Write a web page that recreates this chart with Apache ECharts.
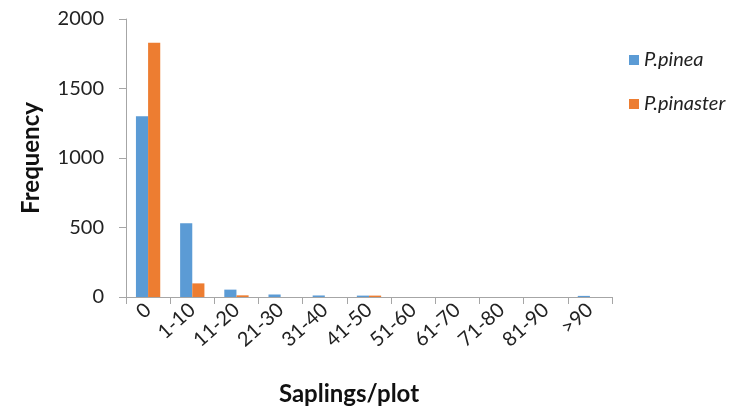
<!DOCTYPE html>
<html><head><meta charset="utf-8">
<script src="https://cdn.jsdelivr.net/npm/echarts@6/dist/echarts.min.js"></script>
<style>html,body{margin:0;padding:0;background:#fff}#c{width:746px;height:407px}</style>
</head><body><div id="c"></div>
<script>
var categories = ['0','1-10','11-20','21-30','31-40','41-50','51-60','61-70','71-80','81-90','>90'];
var pinea = [1300, 530, 53, 18, 11, 10, 0, 0, 0, 0, 8];
var pinaster = [1830, 98, 12, 0, 0, 10, 0, 0, 0, 0, 0];
var seriesNames = ['P.pinea', 'P.pinaster'];
var yTicks = [0, 500, 1000, 1500, 2000];

var font = 'Lato, "Open Sans", sans-serif';
var chart = echarts.init(document.getElementById('c'));
chart.setOption({
  animation: false,
  backgroundColor: '#fff',
  grid: {left: 126, right: 134, top: 19, bottom: 110, containLabel: false, outerBoundsMode: 'none'},
  legend: {
    orient: 'vertical', left: 624, top: 45, itemWidth: 10, itemHeight: 10, itemGap: 24,
    icon: 'rect',
    textStyle: {fontFamily: font, fontSize: 20, fontStyle: 'italic', color: '#222'},
    data: seriesNames
  },
  xAxis: {
    type: 'category', data: categories,
    name: 'Saplings/plot', nameLocation: 'middle', nameGap: 85,
    nameTextStyle: {fontFamily: font, fontSize: 24, fontWeight: 'bold', color: '#111', padding: [0,0,0,-40]},
    axisLine: {lineStyle: {color: '#a6a6a6', width: 1}},
    axisTick: {show: true, length: 7, lineStyle: {color: '#a6a6a6'}},
    axisLabel: {rotate: 42, interval: 0, fontFamily: font, fontSize: 20, color: '#222', margin: 10}
  },
  yAxis: {
    type: 'value', min: yTicks[0], max: yTicks[yTicks.length-1], interval: 500,
    name: 'Frequency', nameLocation: 'middle', nameGap: 83, nameRotate: 90,
    nameTextStyle: {fontFamily: font, fontSize: 24, fontWeight: 'bold', color: '#111'},
    axisLine: {show: true, lineStyle: {color: '#a6a6a6', width: 1}},
    axisTick: {show: true, length: 7, lineStyle: {color: '#a6a6a6'}},
    splitLine: {show: false},
    axisLabel: {fontFamily: font, fontSize: 20, color: '#222', margin: 22, formatter: function(v){return String(v);}}
  },
  series: [
    {name: seriesNames[0], type: 'bar', data: pinea, barGap: '0%', barCategoryGap: '45%',
     itemStyle: {color: '#5b9bd5'}},
    {name: seriesNames[1], type: 'bar', data: pinaster, barGap: '0%', barCategoryGap: '45%',
     itemStyle: {color: '#ed7d31'}}
  ]
});
</script></body></html>
